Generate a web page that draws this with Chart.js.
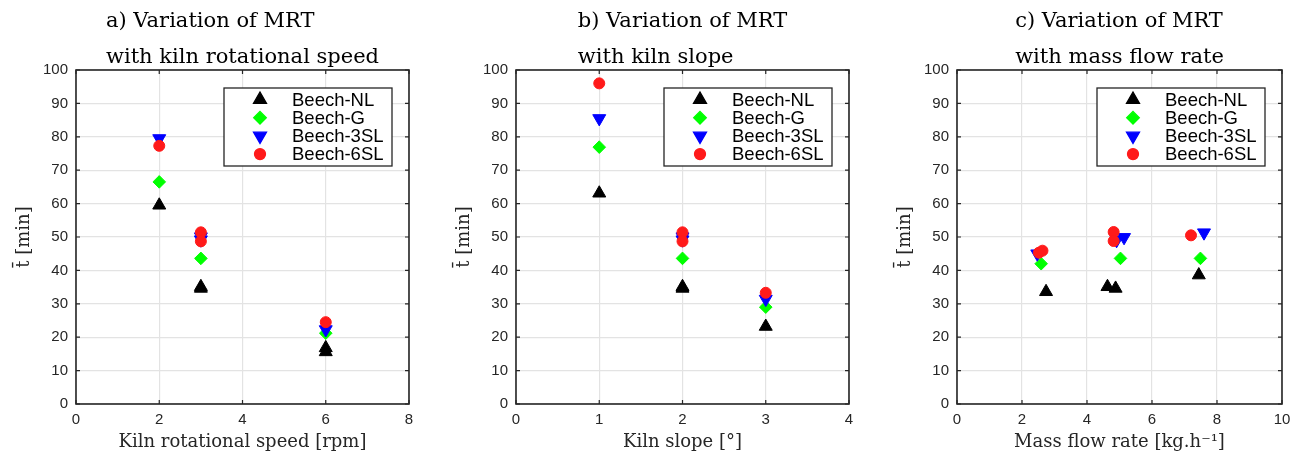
<!DOCTYPE html>
<html>
<head>
<meta charset="utf-8">
<script src="https://cdn.jsdelivr.net/npm/chart.js@4.4.1/dist/chart.umd.min.js"></script>
<style>
  html, body { margin: 0; padding: 0; background: #fff; overflow: hidden; }
  .panel { position: absolute; top: 0; height: 459px; }
</style>
</head>
<body>
<div class="panel" style="left:0px;width:440px"><canvas id="mrt-speed"></canvas></div>
<div class="panel" style="left:440px;width:440px"><canvas id="mrt-slope"></canvas></div>
<div class="panel" style="left:881px;width:432px"><canvas id="mrt-flow"></canvas></div>
<script>
// series names (legend order)
const seriesNames = ["Beech-NL", "Beech-G", "Beech-3SL", "Beech-6SL"];

// a) kiln rotational speed [rpm] vs mean residence time [min]
const speedNL = [[2, 59.5], [3, 35.1], [3, 34.6], [6, 15.6], [6, 16.8]];
const speedG = [[2, 66.5], [3, 43.6], [6, 21.2]];
const speed3SL = [[2, 79.5], [3, 50.1], [3, 49.2], [6, 22.3]];
const speed6SL = [[2, 77.3], [3, 51.4], [3, 48.7], [6, 24.5]];

// b) kiln slope [deg]
const slopeNL = [[1, 63.1], [2, 35.1], [2, 34.6], [3, 23.2]];
const slopeG = [[1, 76.9], [2, 43.6], [3, 29.0]];
const slope3SL = [[1, 85.5], [2, 50.1], [2, 49.2], [3, 31.4]];
const slope6SL = [[1, 96.0], [2, 51.4], [2, 48.7], [3, 33.3]];

// c) mass flow rate [kg/h]
const flowNL = [[2.74, 33.6], [4.63, 35.1], [4.88, 34.6], [7.44, 38.6]];
const flowG = [[2.59, 42.0], [5.03, 43.6], [7.49, 43.6]];
const flow3SL = [[2.47, 45.0], [4.91, 49.0], [5.14, 49.9], [7.6, 51.3]];
const flow6SL = [[2.52, 45.3], [2.63, 45.9], [4.82, 51.5], [4.82, 48.8], [7.2, 50.5]];

const AXIS_COLOR = "#262626";
const GRID_COLOR = "#e3e3e3";

const markerStyles = [
  { color: "#000000", pointStyle: "triangle", rotation: 0, radius: 7.5 },
  { color: "#00ff00", pointStyle: "rectRot", rotation: 0, radius: 6.3 },
  { color: "#0000ff", pointStyle: "triangle", rotation: 180, radius: 7.5 },
  { color: "#ff1a1a", pointStyle: "circle", rotation: 0, radius: 5.5 },
];

function toPoints(pairs) {
  return pairs.map((p) => ({ x: p[0], y: p[1] }));
}

// two-line title, lines left aligned, block centred over the axes
const blockTitle = {
  id: "blockTitle",
  afterDraw(chart, args, opts) {
    const { ctx, chartArea: a } = chart;
    ctx.save();
    ctx.font = '21px "DejaVu Serif"';
    ctx.fillStyle = "#000000";
    ctx.textBaseline = "alphabetic";
    ctx.textAlign = "left";
    const w = Math.max(...opts.lines.map((l) => ctx.measureText(l).width));
    const x0 = (a.left + a.right) / 2 - w / 2;
    opts.lines.forEach((l, i) => ctx.fillText(l, x0, 26.7 + i * 36.6));
    ctx.restore();
  },
};

// MATLAB-like box with inward ticks
const axesBox = {
  id: "axesBox",
  beforeDatasetsDraw(chart) {
    const { ctx, chartArea: a, scales } = chart;
    ctx.save();
    ctx.strokeStyle = AXIS_COLOR;
    ctx.lineWidth = 1.2;
    ctx.beginPath();
    scales.x.ticks.forEach((t) => {
      const px = scales.x.getPixelForValue(t.value);
      ctx.moveTo(px, a.bottom);
      ctx.lineTo(px, a.bottom - 4);
      ctx.moveTo(px, a.top);
      ctx.lineTo(px, a.top + 4);
    });
    scales.y.ticks.forEach((t) => {
      const py = scales.y.getPixelForValue(t.value);
      ctx.moveTo(a.left, py);
      ctx.lineTo(a.left + 4, py);
      ctx.moveTo(a.right, py);
      ctx.lineTo(a.right - 4, py);
    });
    ctx.stroke();
    ctx.lineWidth = 1.6;
    ctx.strokeRect(a.left, a.top, a.right - a.left, a.bottom - a.top);
    ctx.restore();
  },
};

// boxed legend inside the axes, top right
const boxLegend = {
  id: "boxLegend",
  afterDraw(chart) {
    const { ctx, chartArea: a } = chart;
    const w = 168, h = 78;
    const x0 = a.right - 17 - w;
    const y0 = a.top + 18;
    ctx.save();
    ctx.fillStyle = "#ffffff";
    ctx.fillRect(x0, y0, w, h);
    ctx.strokeStyle = AXIS_COLOR;
    ctx.lineWidth = 1.3;
    ctx.strokeRect(x0, y0, w, h);
    chart.data.datasets.forEach((ds, i) => {
      const cy = y0 + 11.5 + i * 18.2;
      ctx.fillStyle = ds.backgroundColor;
      ctx.strokeStyle = ds.borderColor;
      Chart.helpers.drawPoint(
        ctx,
        { pointStyle: ds.pointStyle, rotation: ds.rotation, radius: ds.pointRadius, borderWidth: 1 },
        x0 + 36,
        cy
      );
      ctx.fillStyle = "#000000";
      ctx.font = '18.5px "Liberation Sans"';
      ctx.textBaseline = "middle";
      ctx.textAlign = "left";
      ctx.fillText(ds.label, x0 + 68, cy + 1);
    });
    ctx.restore();
  },
};

function makePanel(id, titleLines, xTitle, xMax, xStep, series) {
  const datasets = series.map((pairs, i) => {
    const m = markerStyles[i];
    return {
      label: seriesNames[i],
      data: toPoints(pairs),
      pointStyle: m.pointStyle,
      rotation: m.rotation,
      pointRadius: m.radius,
      pointBorderWidth: 1,
      backgroundColor: m.color,
      borderColor: m.color,
      showLine: false,
      order: 4 - i,
    };
  });

  const tickFont = { family: "Liberation Sans", size: 15 };
  const labelFont = { family: "DejaVu Serif", size: 18 };

  return new Chart(document.getElementById(id), {
    type: "scatter",
    data: { datasets },
    plugins: [axesBox, boxLegend, blockTitle],
    options: {
      responsive: true,
      maintainAspectRatio: false,
      animation: false,
      layout: { padding: { left: 0, right: 31, top: 70, bottom: 0 } },
      plugins: {
        legend: { display: false },
        tooltip: { enabled: false },
        title: { display: false },
        blockTitle: { lines: titleLines },
      },
      scales: {
        x: {
          type: "linear",
          min: 0,
          max: xMax,
          ticks: { stepSize: xStep, color: AXIS_COLOR, font: tickFont, padding: 7, maxRotation: 0 },
          grid: { color: GRID_COLOR, lineWidth: 1.2, drawTicks: false },
          border: { display: false },
          title: { display: true, text: xTitle, color: AXIS_COLOR, font: labelFont, padding: { top: 0, bottom: 6 } },
          afterFit(scale) {
            scale.height = 55;
          },
        },
        y: {
          min: 0,
          max: 100,
          ticks: { stepSize: 10, color: AXIS_COLOR, font: tickFont, padding: 8 },
          grid: { color: GRID_COLOR, lineWidth: 1.2, drawTicks: false },
          border: { display: false },
          title: { display: true, text: "t\u0304 [min]", color: AXIS_COLOR, font: labelFont, padding: { top: 14, bottom: 0 } },
          afterFit(scale) {
            scale.width = 76;
          },
        },
      },
    },
  });
}

makePanel("mrt-speed", ["a) Variation of MRT", "with kiln rotational speed"],
  "Kiln rotational speed [rpm]", 8, 2, [speedNL, speedG, speed3SL, speed6SL]);
makePanel("mrt-slope", ["b) Variation of MRT", "with kiln slope"],
  "Kiln slope [\u00b0]", 4, 1, [slopeNL, slopeG, slope3SL, slope6SL]);
makePanel("mrt-flow", ["c) Variation of MRT", "with mass flow rate"],
  "Mass flow rate [kg.h\u207b\u00b9]", 10, 2, [flowNL, flowG, flow3SL, flow6SL]);
</script>
</body>
</html>
